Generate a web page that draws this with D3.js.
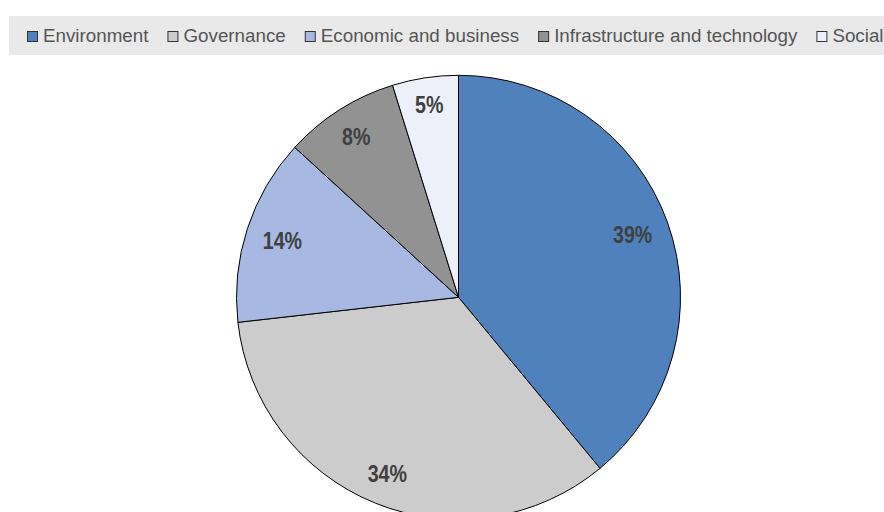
<!DOCTYPE html>
<html>
<head>
<meta charset="utf-8">
<script src="https://cdn.jsdelivr.net/npm/d3@7/dist/d3.min.js"></script>
<style>
  html, body { margin: 0; padding: 0; background: #ffffff; }
  svg { display: block; }
</style>
</head>
<body>
<svg id="chart" width="884" height="512"></svg>
<script>
const categories = ["Environment", "Governance", "Economic and business", "Infrastructure and technology", "Social"];
const values = [39.0, 34.2, 13.6, 8.4, 4.8];
const labels = ["39%", "34%", "14%", "8%", "5%"];
const colors = ["#4f81bd", "#cccccc", "#a7b9e3", "#929292", "#edf0f8"];

const svg = d3.select("#chart");
const W = 884, H = 512;

// Legend
const legendG = svg.append("g");
legendG.append("rect")
  .attr("x", 9).attr("y", 16).attr("width", W - 9).attr("height", 39)
  .attr("fill", "#e9e9e9");

let lx = 27;
categories.forEach((c, i) => {
  const g = legendG.append("g");
  g.append("rect")
    .attr("x", lx + 0.5).attr("y", 31.5).attr("width", 10).attr("height", 10)
    .attr("fill", colors[i]).attr("stroke", "#333").attr("stroke-width", 1);
  const t = g.append("text")
    .attr("x", lx + 16).attr("y", 42)
    .attr("font-family", "'Liberation Sans', Arial, sans-serif")
    .attr("font-size", 18.8).attr("fill", "#555")
    .text(c);
  const w = t.node().getComputedTextLength();
  lx = lx + 16 + w + 19;
});

// Pie
const cx = 458.5, cy = 297.3, R = 222;
const pie = d3.pie().sort(null).value(d => d)(values);
const arc = d3.arc().innerRadius(0).outerRadius(R);

const pieG = svg.append("g").attr("transform", `translate(${cx},${cy})`);
pieG.selectAll("path.slice").data(pie).join("path")
  .attr("class", "slice")
  .attr("d", arc)
  .attr("fill", (d, i) => colors[i])
  .attr("stroke", "#000").attr("stroke-width", 1).attr("stroke-linejoin", "round");

const r0 = 207, halfH = 10, sx = 0.82;
pieG.selectAll("text.lbl").data(pie).join("text")
  .attr("class", "lbl")
  .attr("text-anchor", "middle").attr("dy", "0.36em")
  .attr("font-family", "'Liberation Sans', Arial, sans-serif")
  .attr("font-weight", "bold").attr("font-size", 24).attr("fill", "#404040")
  .text((d, i) => labels[i])
  .each(function(d) {
    const a = (d.startAngle + d.endAngle) / 2;
    const s = Math.sin(a), c = Math.cos(a);
    const halfW = this.getComputedTextLength() * sx / 2;
    const r = r0 - (Math.abs(s) * halfW + Math.abs(c) * halfH);
    d3.select(this).attr("transform", `translate(${r * s},${-r * c}) scale(${sx},1)`);
  });
</script>
</body>
</html>
